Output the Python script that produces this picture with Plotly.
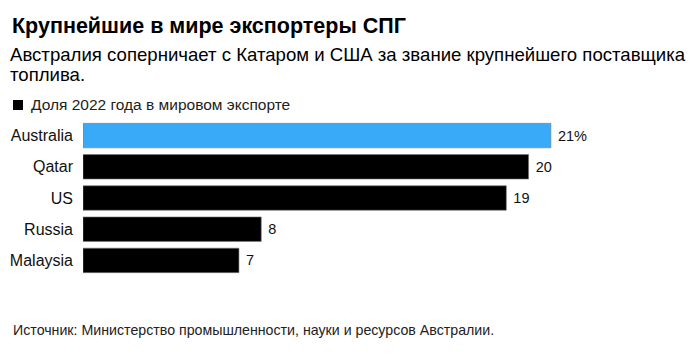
import plotly.graph_objects as go

countries = ["Australia", "Qatar", "US", "Russia", "Malaysia"]
shares = [21, 20, 19, 8, 7]
value_labels = ["21%", "20", "19", "8", "7"]
bar_colors = ["#38AAF8", "#000000", "#000000", "#000000", "#000000"]

title = "Крупнейшие в мире экспортеры СПГ"
subtitle_lines = ["Австралия соперничает с Катаром и США за звание крупнейшего поставщика", "топлива."]
legend_label = "Доля 2022 года в мировом экспорте"
source = "Источник: Министерство промышленности, науки и ресурсов Австралии."

# page has an 8px body margin: figure is drawn from (8, 8)
OFF = 8
W, H = 686, 341
ml, mr, mt, mb = 75, 54, 112, 73
pw = W - ml - mr
ph = H - mt - mb

def px_x(x):  # page px -> paper
    return (x - OFF - ml) / pw

def px_y(y):  # page px -> paper
    return (H - mb - (y - OFF)) / ph

FONT = "Liberation Sans, Arial, sans-serif"

fig = go.Figure(go.Bar(
    x=shares, y=countries, orientation="h",
    marker=dict(color=bar_colors, line=dict(color="#7a7a7a", width=0.6)),
    text=["&nbsp;" + t for t in value_labels], textposition="outside", cliponaxis=False,
    textfont=dict(family=FONT, size=14.5, color="#111111"),
    hoverinfo="skip",
))

fig.update_layout(
    width=W, height=H,
    margin=dict(l=ml, r=mr, t=mt, b=mb, pad=0, autoexpand=False),
    paper_bgcolor="white", plot_bgcolor="white",
    showlegend=False, bargap=0.215,
    font=dict(family=FONT, color="#111111"),
    xaxis=dict(range=[0, 25], visible=False, fixedrange=True, automargin=False),
    yaxis=dict(autorange="reversed", showgrid=False, zeroline=False, showline=False,
               ticks="", ticklabelstandoff=9, automargin=False,
               tickfont=dict(family=FONT, size=16, color="#111111")),
)

ann = [
    dict(text="<b>" + title + "</b>", x=px_x(10), y=px_y(26), font=dict(size=21.5, color="#000000")),
    dict(text=subtitle_lines[0], x=px_x(8), y=px_y(55), font=dict(size=18.6, color="#000000")),
    dict(text=subtitle_lines[1], x=px_x(8), y=px_y(74), font=dict(size=18.6, color="#000000")),
    dict(text=legend_label, x=px_x(29), y=px_y(105), font=dict(size=15.5, color="#222222")),
    dict(text=source, x=px_x(11), y=px_y(330), font=dict(size=14.2, color="#222222")),
]
for a in ann:
    a.update(xref="paper", yref="paper", xanchor="left", yanchor="middle", showarrow=False, align="left")
    a["font"]["family"] = FONT
fig.update_layout(annotations=ann)

fig.add_shape(type="rect", xref="paper", yref="paper",
              x0=px_x(13), x1=px_x(23), y0=px_y(100), y1=px_y(110),
              fillcolor="#000000", line=dict(width=0))

fig.write_html("out.html")
